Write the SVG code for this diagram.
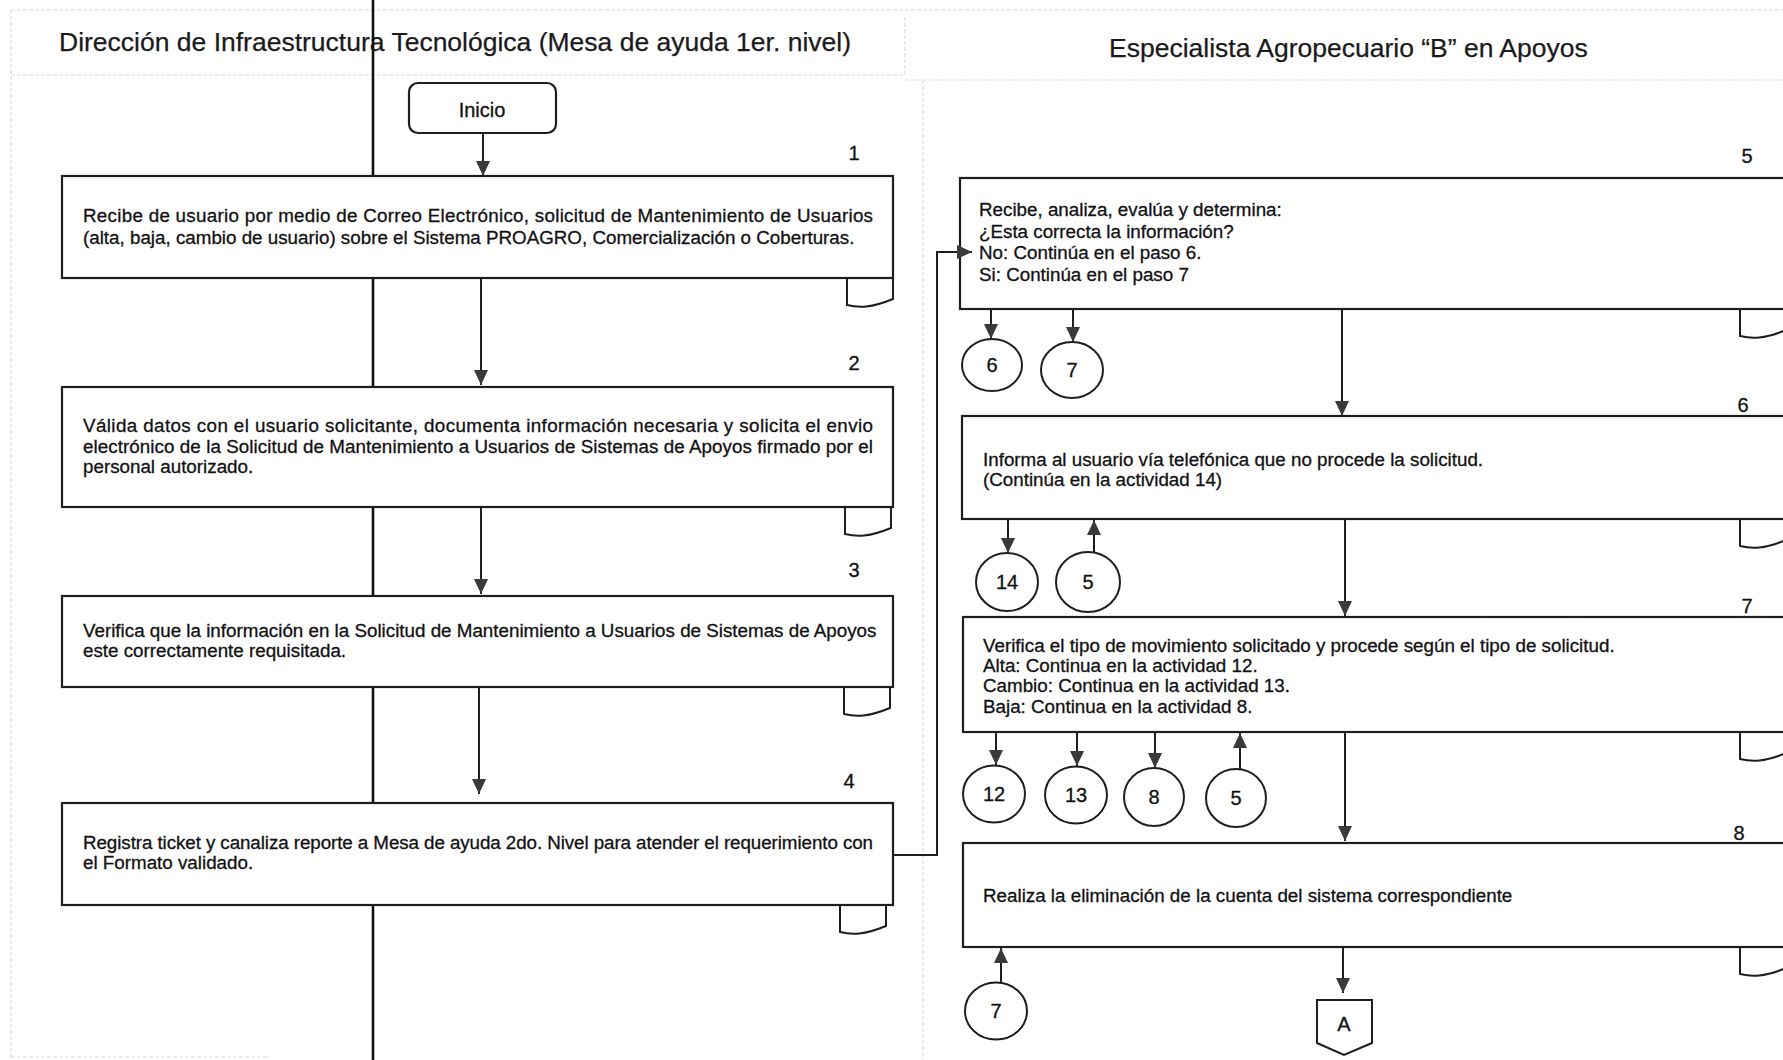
<svg xmlns="http://www.w3.org/2000/svg" xmlns:xlink="http://www.w3.org/1999/xlink" width="1783" height="1060" viewBox="0 0 1783 1060">
  <style>
    .lane { fill: none; stroke: #dcdcdc; stroke-width: 1.2; stroke-dasharray: 4 2; }
    .hdr { font-family: "Liberation Sans", Arial, sans-serif; font-size: 26.5px; fill: #1a1a1a; stroke: #1a1a1a; stroke-width: 0.25; }
    .box { fill: #ffffff; stroke: #1e1e1e; stroke-width: 2.2; }
    .tab { fill: #ffffff; stroke: #1e1e1e; stroke-width: 2; }
    .txt { font-family: "Liberation Sans", Arial, sans-serif; font-size: 18.8px; fill: #111111; stroke: #111111; stroke-width: 0.3; }
    .num { font-family: "Liberation Sans", Arial, sans-serif; font-size: 20px; fill: #111111; stroke: #111111; stroke-width: 0.3; text-anchor: middle; }
    .lbl { font-family: "Liberation Sans", Arial, sans-serif; font-size: 20px; fill: #111111; stroke: #111111; stroke-width: 0.3; text-anchor: middle; }
    .conn { fill: none; stroke: #1e1e1e; stroke-width: 2; }
    .ref { fill: #ffffff; stroke: #1e1e1e; stroke-width: 2; }
  </style>
  <defs>
    <marker id="arrow" viewBox="0 0 15 14" refX="15" refY="7" markerWidth="15" markerHeight="14" markerUnits="userSpaceOnUse" orient="auto">
      <path d="M0,0 L15,7 L0,14 Z" fill="#3a3a3a"/>
    </marker>
    <!-- document tab hanging under each activity box -->
    <path id="tab" d="M0,0 V27 C12,30 24,30 46,21 V0"/>
  </defs>

  <rect width="1783" height="1060" fill="#ffffff"/>

  <!-- swimlane frame -->
  <g id="lanes">
    <path class="lane" d="M11,10 H1783"/>
    <path class="lane" d="M11,10 V1060"/>
    <path class="lane" d="M11,75 H905"/>
    <path class="lane" d="M905,17 V75"/>
    <path class="lane" d="M905,80 H1783"/>
    <path class="lane" d="M923,80 V1060"/>
    <path class="lane" d="M11,1057 H270"/>
    <text class="hdr" x="59" y="51">Dirección de Infraestructura Tecnológica (Mesa de ayuda 1er. nivel)</text>
    <text class="hdr" x="1109" y="57">Especialista Agropecuario “B” en Apoyos</text>
  </g>

  <!-- heavy vertical rule -->
  <line x1="373" y1="0" x2="373" y2="1060" stroke="#111" stroke-width="2.6"/>

  <g id="inicio">
    <rect class="box" x="409" y="83" width="147" height="50" rx="9"/>
    <text class="lbl" x="482" y="117" font-size="21">Inicio</text>
  </g>

  <g id="step1">
    <use xlink:href="#tab" class="tab" x="847" y="278"/>
    <rect class="box" x="62" y="176" width="831" height="102"/>
    <text class="num" x="854" y="160">1</text>
    <text class="txt" x="83" y="222" textLength="790" lengthAdjust="spacing">Recibe de usuario por medio de Correo Electrónico, solicitud de Mantenimiento de Usuarios</text>
    <text class="txt" x="83" y="244">(alta, baja, cambio de usuario) sobre el Sistema PROAGRO, Comercialización o Coberturas.</text>
  </g>

  <g id="step2">
    <use xlink:href="#tab" class="tab" x="845" y="507"/>
    <rect class="box" x="62" y="387" width="831" height="120"/>
    <text class="num" x="854" y="370">2</text>
    <text class="txt" x="83" y="432" textLength="790" lengthAdjust="spacing">Válida datos con el usuario solicitante, documenta información necesaria y solicita el envio</text>
    <text class="txt" x="83" y="453" textLength="790" lengthAdjust="spacing">electrónico de la Solicitud de Mantenimiento a Usuarios de Sistemas de Apoyos firmado por el</text>
    <text class="txt" x="83" y="473">personal autorizado.</text>
  </g>

  <g id="step3">
    <use xlink:href="#tab" class="tab" x="844" y="687"/>
    <rect class="box" x="62" y="596" width="831" height="91"/>
    <text class="num" x="854" y="577">3</text>
    <text class="txt" x="83" y="637">Verifica que la información en la Solicitud de Mantenimiento a Usuarios de Sistemas de Apoyos</text>
    <text class="txt" x="83" y="657">este correctamente requisitada.</text>
  </g>

  <g id="step4">
    <use xlink:href="#tab" class="tab" x="840" y="905"/>
    <rect class="box" x="62" y="803" width="831" height="102"/>
    <text class="num" x="849" y="788">4</text>
    <text class="txt" x="83" y="849" textLength="790" lengthAdjust="spacing">Registra ticket y canaliza reporte a Mesa de ayuda 2do. Nivel para atender el requerimiento con</text>
    <text class="txt" x="83" y="869">el Formato validado.</text>
  </g>

  <g id="step5">
    <use xlink:href="#tab" class="tab" x="1740" y="309"/>
    <rect class="box" x="960" y="178" width="840" height="131"/>
    <text class="num" x="1747" y="163">5</text>
    <text class="txt" x="979" y="216">Recibe, analiza, evalúa y determina:</text>
    <text class="txt" x="979" y="238">¿Esta correcta la información?</text>
    <text class="txt" x="979" y="259">No: Continúa en el paso 6.</text>
    <text class="txt" x="979" y="281">Si: Continúa en el paso 7</text>
  </g>

  <g id="step6">
    <use xlink:href="#tab" class="tab" x="1740" y="519"/>
    <rect class="box" x="962" y="416" width="840" height="103"/>
    <text class="num" x="1743" y="412">6</text>
    <text class="txt" x="983" y="466">Informa al usuario vía telefónica que no procede la solicitud.</text>
    <text class="txt" x="983" y="486">(Continúa en la actividad 14)</text>
  </g>

  <g id="step7">
    <use xlink:href="#tab" class="tab" x="1740" y="732"/>
    <rect class="box" x="963" y="617" width="840" height="115"/>
    <text class="num" x="1747" y="613">7</text>
    <text class="txt" x="983" y="652">Verifica el tipo de movimiento solicitado y procede según el tipo de solicitud.</text>
    <text class="txt" x="983" y="672">Alta: Continua en la actividad 12.</text>
    <text class="txt" x="983" y="692">Cambio: Continua en la actividad 13.</text>
    <text class="txt" x="983" y="713">Baja: Continua en la actividad 8.</text>
  </g>

  <g id="step8">
    <use xlink:href="#tab" class="tab" x="1740" y="947"/>
    <rect class="box" x="963" y="843" width="840" height="104"/>
    <text class="num" x="1739" y="840">8</text>
    <text class="txt" x="983" y="902">Realiza la eliminación de la cuenta del sistema correspondiente</text>
  </g>

  <!-- on-page references -->
  <g id="ref-s5-6"><ellipse class="ref" cx="992" cy="365" rx="30" ry="26"/><text class="lbl" x="992" y="372">6</text></g>
  <g id="ref-s5-7"><ellipse class="ref" cx="1072" cy="370" rx="31" ry="28"/><text class="lbl" x="1072" y="377">7</text></g>
  <g id="ref-s6-14"><ellipse class="ref" cx="1007" cy="582" rx="31" ry="29"/><text class="lbl" x="1007" y="589">14</text></g>
  <g id="ref-s6-5"><ellipse class="ref" cx="1088" cy="582" rx="32" ry="30"/><text class="lbl" x="1088" y="589">5</text></g>
  <g id="ref-s7-12"><ellipse class="ref" cx="994" cy="794" rx="31" ry="28.5"/><text class="lbl" x="994" y="801">12</text></g>
  <g id="ref-s7-13"><ellipse class="ref" cx="1076" cy="795" rx="31" ry="28.5"/><text class="lbl" x="1076" y="802">13</text></g>
  <g id="ref-s7-8"><ellipse class="ref" cx="1154" cy="797" rx="30" ry="29"/><text class="lbl" x="1154" y="804">8</text></g>
  <g id="ref-s7-5"><ellipse class="ref" cx="1236" cy="798" rx="30" ry="29"/><text class="lbl" x="1236" y="805">5</text></g>
  <g id="ref-s8-7"><ellipse class="ref" cx="996" cy="1011" rx="31" ry="28.5"/><text class="lbl" x="996" y="1018">7</text></g>

  <!-- off-page connector -->
  <g id="offpage-A">
    <path class="ref" d="M1317,1000 H1372 V1043 L1344,1055 L1317,1043 Z"/>
    <text class="lbl" x="1344" y="1031" font-size="21">A</text>
  </g>

  <!-- flow lines drawn last so arrowheads sit on top of the boxes -->
  <g id="connectors">
    <path class="conn" d="M483,133 V176" marker-end="url(#arrow)"/>
    <path class="conn" d="M481,278 V385" marker-end="url(#arrow)"/>
    <path class="conn" d="M481,507 V594" marker-end="url(#arrow)"/>
    <path class="conn" d="M479,687 V794" marker-end="url(#arrow)"/>
    <path class="conn" d="M893,855 H937 V252 H972" marker-end="url(#arrow)"/>
    <path class="conn" d="M991,309 V339" marker-end="url(#arrow)"/>
    <path class="conn" d="M1073,309 V342" marker-end="url(#arrow)"/>
    <path class="conn" d="M1342,309 V416" marker-end="url(#arrow)"/>
    <path class="conn" d="M1008,519 V553" marker-end="url(#arrow)"/>
    <path class="conn" d="M1094,553 V520" marker-end="url(#arrow)"/>
    <path class="conn" d="M1345,519 V616" marker-end="url(#arrow)"/>
    <path class="conn" d="M996,732 V765" marker-end="url(#arrow)"/>
    <path class="conn" d="M1077,732 V766" marker-end="url(#arrow)"/>
    <path class="conn" d="M1155,732 V768" marker-end="url(#arrow)"/>
    <path class="conn" d="M1240,770 V733" marker-end="url(#arrow)"/>
    <path class="conn" d="M1345,732 V841" marker-end="url(#arrow)"/>
    <path class="conn" d="M1001,983 V948" marker-end="url(#arrow)"/>
    <path class="conn" d="M1343,947 V993" marker-end="url(#arrow)"/>
  </g>
</svg>
